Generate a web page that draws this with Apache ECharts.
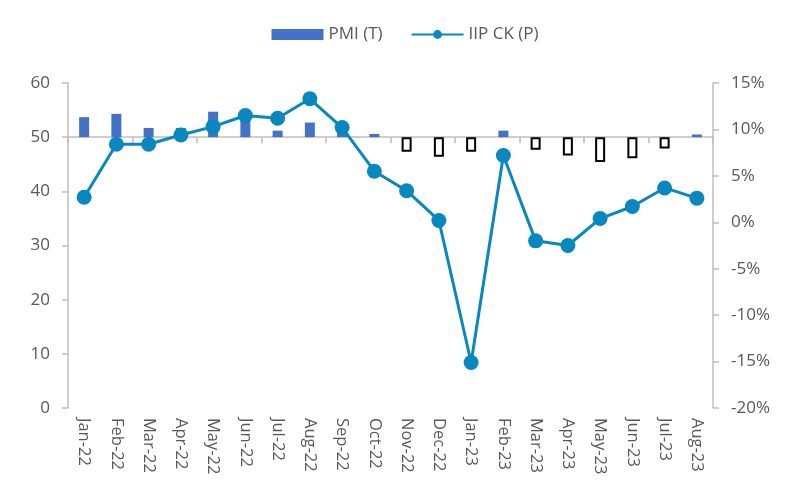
<!DOCTYPE html>
<html><head><meta charset="utf-8">
<script src="https://cdn.jsdelivr.net/npm/echarts@6/dist/echarts.min.js"></script>
<style>html,body{margin:0;padding:0;background:#fff}#c{width:810px;height:485px}</style>
</head><body><div id="c"></div>
<script>
const months = ['Jan-22','Feb-22','Mar-22','Apr-22','May-22','Jun-22','Jul-22','Aug-22','Sep-22','Oct-22','Nov-22','Dec-22','Jan-23','Feb-23','Mar-23','Apr-23','May-23','Jun-23','Jul-23','Aug-23'];
const pmi = [53.7, 54.3, 51.7, 51.7, 54.7, 54.0, 51.2, 52.7, 52.5, 50.6, 47.3, 46.4, 47.3, 51.2, 47.7, 46.6, 45.4, 46.1, 47.9, 50.5];
const iip = [2.7, 8.4, 8.4, 9.4, 10.3, 11.5, 11.2, 13.3, 10.2, 5.5, 3.4, 0.2, -15.1, 7.2, -2.0, -2.5, 0.4, 1.7, 3.7, 2.6];
const pmiBase = 50;
const leftTicks = {min: 0, max: 60, interval: 10};
const rightTicks = {min: -20, max: 15, interval: 5};

const font = "'Open Sans', 'Noto Sans', sans-serif";
const txt = '#595959';
const axisGray = '#bfbfbf';
const barBlue = '#4472C4';
const lineBlue = '#0888BF';

const chart = echarts.init(document.getElementById('c'));
chart.setOption({
  animation: false,
  textStyle: {fontFamily: font},
  legend: {
    top: 21, left: 'center', itemGap: 28, itemWidth: 52, itemHeight: 11,
    textStyle: {fontFamily: font, fontSize: 17, color: txt},
    data: [{name: 'PMI (T)', icon: 'rect'}, {name: 'IIP CK (P)'}]
  },
  grid: {left: 68, right: 97, top: 83, bottom: 77},
  xAxis: [
    {type: 'category', data: months, position: 'bottom',
     axisLine: {onZero: true, onZeroAxisIndex: 2, lineStyle: {color: axisGray, width: 1.5}},
     axisTick: {show: true, length: 6, lineStyle: {color: axisGray, width: 1.5}},
     axisLabel: {show: false}},
    {type: 'category', data: months, position: 'bottom',
     axisLine: {show: false, onZero: false}, axisTick: {show: false},
     axisLabel: {rotate: -90, margin: 10, fontSize: 16.5, color: txt, fontFamily: font}}
  ],
  yAxis: [
    {type: 'value', position: 'left', min: leftTicks.min, max: leftTicks.max, interval: leftTicks.interval,
     splitLine: {show: false},
     axisLine: {show: true, onZero: false, lineStyle: {color: axisGray, width: 1.5}},
     axisTick: {show: true, length: 6, lineStyle: {color: axisGray, width: 1.5}},
     axisLabel: {fontSize: 17, color: txt, margin: 18, fontFamily: font}},
    {type: 'value', position: 'right', min: rightTicks.min, max: rightTicks.max, interval: rightTicks.interval,
     splitLine: {show: false},
     axisLine: {show: true, onZero: false, lineStyle: {color: axisGray, width: 1.5}},
     axisTick: {show: true, length: 6, lineStyle: {color: axisGray, width: 1.5}},
     axisLabel: {fontSize: 17, color: txt, margin: 18, fontFamily: font, formatter: v => v + '%'}},
    {type: 'value', show: false, min: leftTicks.min - pmiBase, max: leftTicks.max - pmiBase,
     splitLine: {show: false}}
  ],
  series: [
    {name: 'PMI (T)', type: 'bar', xAxisIndex: 0, yAxisIndex: 2, barWidth: 10,
     itemStyle: {color: barBlue},
     data: pmi.map(v => {
       const d = +(v - pmiBase).toFixed(2);
       return d >= 0 ? {value: d} : {value: d, itemStyle: {color: '#ffffff', borderColor: '#000000', borderWidth: 2}};
     }), z: 2},
    {name: 'IIP CK (P)', type: 'line', xAxisIndex: 0, yAxisIndex: 1, data: iip,
     symbol: 'circle', symbolSize: 15,
     lineStyle: {color: lineBlue, width: 3}, itemStyle: {color: lineBlue}, z: 5}
  ]
});
</script></body></html>
